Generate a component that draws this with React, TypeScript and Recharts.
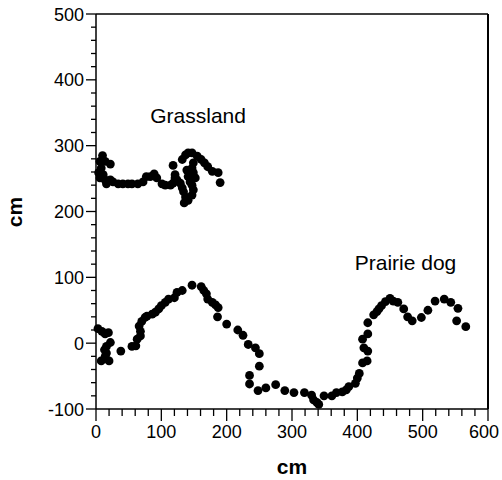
import { ScatterChart, Scatter, XAxis, YAxis, ReferenceLine, ReferenceDot, Label } from 'recharts';

// values
const grasslandX = [10, 6, 14, 22, 8, 4, 11, 6, 14, 16, 22, 26, 34, 41, 49, 55, 64, 72, 77, 83, 89, 93, 101, 106, 114, 118, 121, 118, 121, 124, 129, 132, 134, 137, 135, 141, 147, 149, 147, 144, 141, 139, 147, 149, 152, 137, 141, 147, 155, 161, 166, 171, 178, 187, 190, 149, 132];
const grasslandY = [285, 276, 276, 272, 266, 259, 256, 251, 248, 242, 248, 245, 242, 242, 242, 242, 242, 245, 253, 253, 257, 251, 242, 240, 240, 243, 251, 270, 256, 248, 243, 236, 230, 222, 213, 217, 225, 233, 240, 245, 253, 263, 266, 259, 251, 286, 289, 289, 284, 279, 274, 268, 261, 259, 244, 274, 279];

const prairieX = [3, 9, 14, 19, 22, 16, 13, 16, 14, 8, 20, 38, 55, 61, 63, 68, 68, 66, 70, 75, 78, 86, 91, 96, 100, 106, 111, 120, 124, 132, 147, 161, 165, 169, 171, 178, 183, 187, 186, 200, 217, 225, 233, 244, 250, 250, 235, 235, 248, 260, 275, 289, 303, 319, 330, 333, 338, 341, 349, 361, 368, 377, 383, 387, 397, 400, 403, 408, 415, 416, 410, 408, 416, 416, 425, 430, 433, 437, 443, 450, 455, 462, 471, 477, 484, 498, 508, 519, 533, 543, 554, 552, 566];
const prairieY = [22, 18, 14, 16, 1, -5, -10, -15, -20, -27, -27, -12, -5, -4, 6, 11, 18, 26, 33, 39, 41, 44, 47, 52, 57, 62, 67, 69, 77, 80, 88, 86, 80, 75, 67, 62, 58, 54, 40, 29, 20, 12, -2, -7, -16, -35, -49, -62, -72, -68, -63, -72, -75, -75, -79, -86, -90, -93, -80, -80, -75, -74, -71, -66, -61, -53, -46, -30, -27, -12, -7, 6, 14, 31, 43, 48, 52, 57, 63, 68, 64, 62, 52, 40, 34, 39, 50, 64, 67, 62, 53, 34, 25];

const xTicks = [0, 20, 40, 60, 80, 100, 120, 140, 160, 180, 200, 220, 240, 260, 280, 300, 320, 340, 360, 380, 400, 420, 440, 460, 480, 500, 520, 540, 560, 580, 600];
const yTicks = [-100, -80, -60, -40, -20, 0, 20, 40, 60, 80, 100, 120, 140, 160, 180, 200, 220, 240, 260, 280, 300, 320, 340, 360, 380, 400, 420, 440, 460, 480, 500];

const grassland = grasslandX.map((x, i) => ({ x, y: grasslandY[i] }));
const prairie = prairieX.map((x, i) => ({ x, y: prairieY[i] }));

const font = '"Liberation Sans", Arial, sans-serif';

const Dot = (props: any) => <circle cx={props.cx} cy={props.cy} r={4.4} fill="#000" />;

const XTick = ({ x, y, payload }: any) => {
  const major = payload.value % 100 === 0;
  // last label sits against the page edge, nudge it in a little
  const dx = payload.value === 600 ? -4 : 0;
  return (
    <g>
      <line x1={x} x2={x} y1={y} y2={y + (major ? 12 : 7)} stroke="#000" strokeWidth={1.3} />
      {major && (
        <text x={x + dx} y={y + 29} textAnchor="middle" fontSize={18} fontFamily={font} fill="#000">
          {payload.value}
        </text>
      )}
    </g>
  );
};

const YTick = ({ x, y, payload }: any) => {
  const major = payload.value % 100 === 0;
  return (
    <g>
      <line x1={x} x2={x - (major ? 10 : 5)} y1={y} y2={y} stroke="#000" strokeWidth={1.3} />
      {major && (
        <text x={x - 12} y={y + 6.5} textAnchor="end" fontSize={18} fontFamily={font} fill="#000">
          {payload.value}
        </text>
      )}
    </g>
  );
};

const Note = (text: string) => (p: any) => (
  <text x={p.cx} y={p.cy} fontSize={21} fontFamily={font} fill="#000">
    {text}
  </text>
);

export default function App() {
  return (
    <div style={{ position: 'absolute', left: 0, top: 0, background: '#fff' }}>
      <ScatterChart width={502} height={480} margin={{ top: 14, right: 14, left: 0, bottom: 0 }}>
        <XAxis
          type="number"
          dataKey="x"
          domain={[0, 600]}
          ticks={xTicks}
          interval={0}
          tickSize={0}
          tickMargin={0}
          tick={<XTick />}
          height={71}
          stroke="#000"
          strokeWidth={1.5}
        >
          <Label
            content={({ viewBox }: any) => (
              <text x={viewBox.x + viewBox.width / 2} y={viewBox.y + 65} textAnchor="middle" fontSize={21} fontWeight="bold" fontFamily={font} fill="#000">
                cm
              </text>
            )}
          />
        </XAxis>
        <YAxis
          type="number"
          dataKey="y"
          domain={[-100, 500]}
          ticks={yTicks}
          interval={0}
          tickSize={0}
          tickMargin={0}
          tick={<YTick />}
          width={96}
          stroke="#000"
          strokeWidth={1.5}
        >
          <Label
            content={() => (
              <text x={22} y={212} transform="rotate(-90 22 212)" textAnchor="middle" fontSize={21} fontWeight="bold" fontFamily={font} fill="#000">
                cm
              </text>
            )}
          />
        </YAxis>
        <ReferenceLine y={500} stroke="#000" strokeWidth={1.5} />
        <ReferenceLine x={600} stroke="#000" strokeWidth={2} />
        <Scatter data={grassland} fill="#000" shape={Dot} isAnimationActive={false} />
        <Scatter data={prairie} fill="#000" shape={Dot} isAnimationActive={false} />
        <ReferenceDot x={83} y={335} r={0} shape={Note('Grassland')} />
        <ReferenceDot x={396} y={111} r={0} shape={Note('Prairie dog')} />
      </ScatterChart>
    </div>
  );
}
